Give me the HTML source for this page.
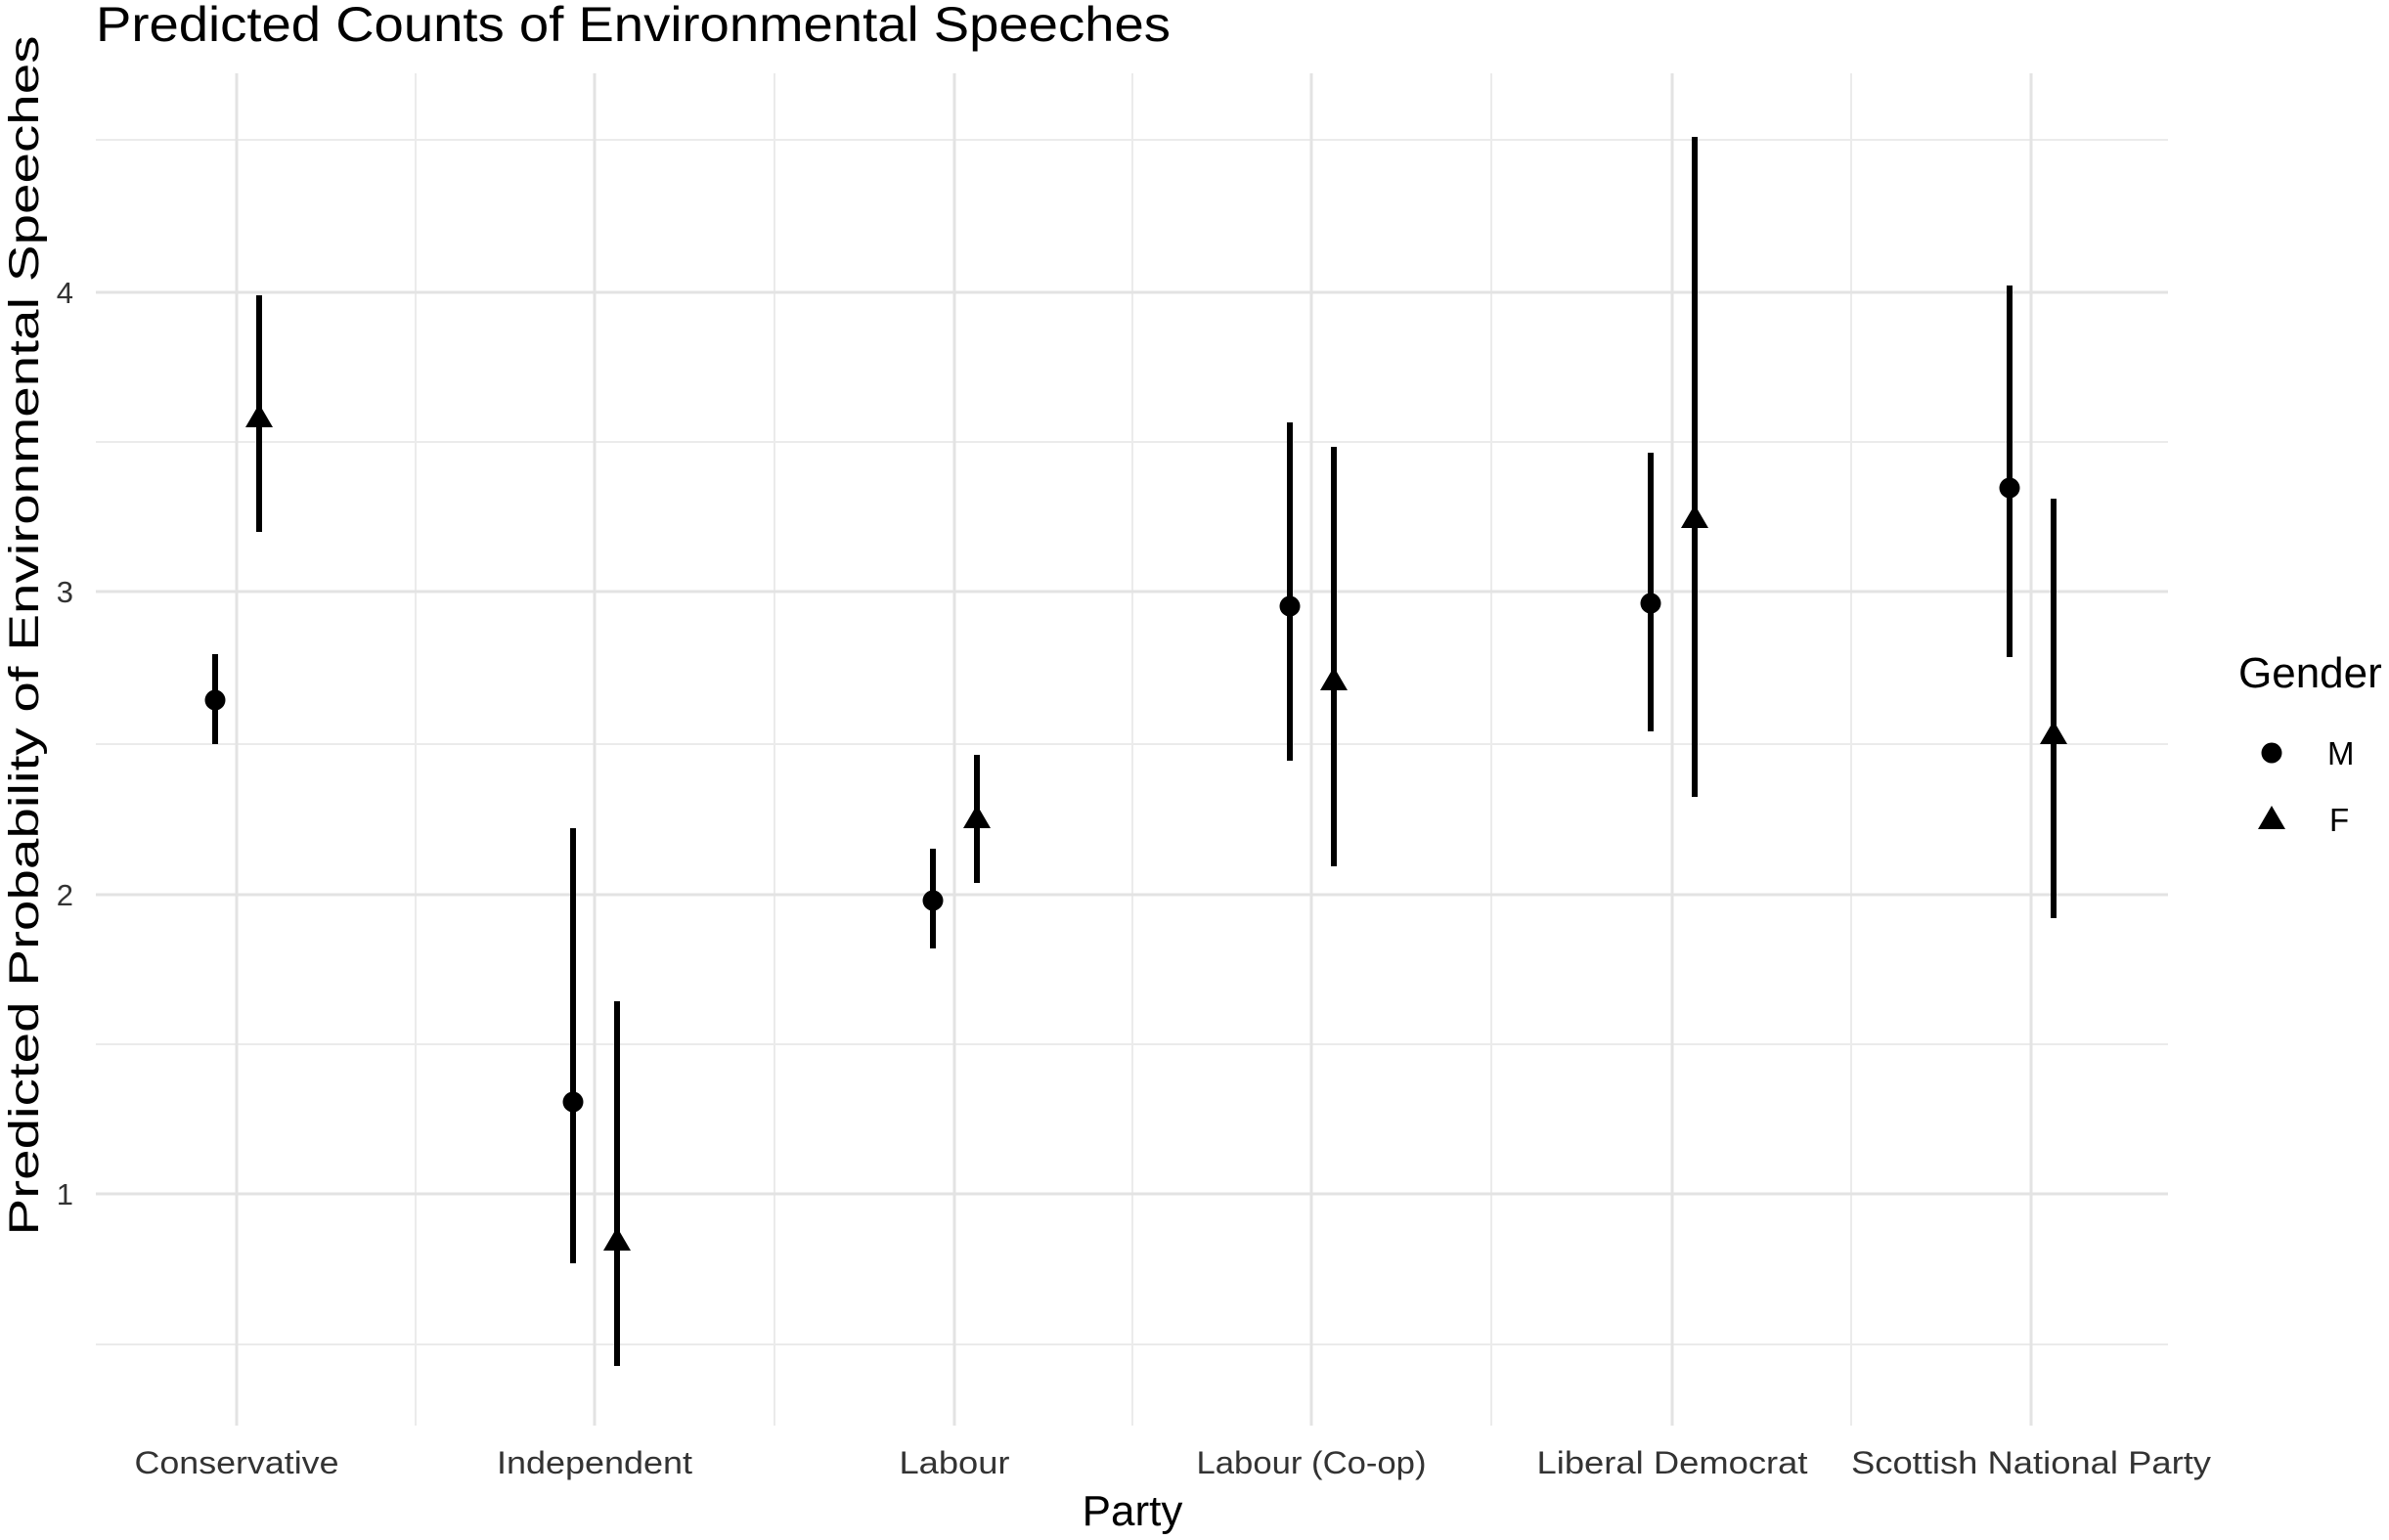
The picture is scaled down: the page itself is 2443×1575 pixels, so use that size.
<!DOCTYPE html>
<html><head><meta charset="utf-8"><style>html,body{margin:0;padding:0;background:#fff}svg{display:block}</style></head>
<body>
<svg width="2443" height="1575" viewBox="0 0 2443 1575" xmlns="http://www.w3.org/2000/svg" font-family="Liberation Sans, Arial, sans-serif">
<rect width="2443" height="1575" fill="#fff"/>
<g stroke="#ebebeb" stroke-width="2">
<line x1="98" x2="2217" y1="1375" y2="1375"/><line x1="98" x2="2217" y1="1068" y2="1068"/><line x1="98" x2="2217" y1="761" y2="761"/><line x1="98" x2="2217" y1="452" y2="452"/><line x1="98" x2="2217" y1="143" y2="143"/>
<line x1="425" x2="425" y1="75" y2="1458"/><line x1="792" x2="792" y1="75" y2="1458"/><line x1="1158" x2="1158" y1="75" y2="1458"/><line x1="1525" x2="1525" y1="75" y2="1458"/><line x1="1893" x2="1893" y1="75" y2="1458"/>
</g>
<g stroke="#e3e3e3" stroke-width="3">
<line x1="98" x2="2217" y1="1221" y2="1221"/><line x1="98" x2="2217" y1="915" y2="915"/><line x1="98" x2="2217" y1="605" y2="605"/><line x1="98" x2="2217" y1="299" y2="299"/>
<line x1="242" x2="242" y1="75" y2="1458"/><line x1="608" x2="608" y1="75" y2="1458"/><line x1="976" x2="976" y1="75" y2="1458"/><line x1="1341" x2="1341" y1="75" y2="1458"/><line x1="1710" x2="1710" y1="75" y2="1458"/><line x1="2077" x2="2077" y1="75" y2="1458"/>
</g>
<g stroke="#000" stroke-width="6">
<line x1="220" x2="220" y1="669" y2="761"/><line x1="265" x2="265" y1="302" y2="544"/>
<line x1="586" x2="586" y1="847" y2="1292"/><line x1="631" x2="631" y1="1024" y2="1397"/>
<line x1="954" x2="954" y1="868" y2="970"/><line x1="999" x2="999" y1="772" y2="903"/>
<line x1="1319" x2="1319" y1="432" y2="778"/><line x1="1364" x2="1364" y1="457" y2="886"/>
<line x1="1688" x2="1688" y1="463" y2="748"/><line x1="1733" x2="1733" y1="140" y2="815"/>
<line x1="2055" x2="2055" y1="292" y2="672"/><line x1="2100" x2="2100" y1="510" y2="939"/>
</g>
<g fill="#000">
<circle cx="220" cy="716" r="10.5"/><circle cx="586" cy="1127" r="10.5"/><circle cx="954" cy="921" r="10.5"/><circle cx="1319" cy="620" r="10.5"/><circle cx="1688" cy="617" r="10.5"/><circle cx="2055" cy="499" r="10.5"/>
<path d="M265 413 l-14 24 h28z"/><path d="M631 1255 l-14 24 h28z"/><path d="M999 823 l-14 24 h28z"/><path d="M1364 682 l-14 24 h28z"/><path d="M1733 516 l-14 24 h28z"/><path d="M2100 737 l-14 24 h28z"/>
<circle cx="2323" cy="770" r="10.5"/><path d="M2323 824 l-14 24 h28z"/>
</g>
<text x="98" y="42" font-size="50" fill="#000" textLength="1099" lengthAdjust="spacingAndGlyphs">Predicted Counts of Environmental Speeches</text>
<g font-size="31" fill="#333" text-anchor="end">
<text x="75" y="1232">1</text><text x="75" y="926">2</text><text x="75" y="616">3</text><text x="75" y="310">4</text>
</g>
<g font-size="32" fill="#333" text-anchor="middle">
<text x="242" y="1507" textLength="209" lengthAdjust="spacingAndGlyphs">Conservative</text>
<text x="608" y="1507" textLength="200" lengthAdjust="spacingAndGlyphs">Independent</text>
<text x="976" y="1507" textLength="113" lengthAdjust="spacingAndGlyphs">Labour</text>
<text x="1341" y="1507" textLength="235" lengthAdjust="spacingAndGlyphs">Labour (Co-op)</text>
<text x="1710" y="1507" textLength="277" lengthAdjust="spacingAndGlyphs">Liberal Democrat</text>
<text x="2077" y="1507" textLength="368" lengthAdjust="spacingAndGlyphs">Scottish National Party</text>
</g>
<text x="1158" y="1560" font-size="44" text-anchor="middle" fill="#000">Party</text>
<text transform="translate(39,650) rotate(-90)" font-size="43" text-anchor="middle" fill="#000" textLength="1227" lengthAdjust="spacingAndGlyphs">Predicted Probability of Environmental Speeches</text>
<text x="2289" y="703" font-size="44" fill="#000">Gender</text>
<text x="2380" y="782" font-size="33" fill="#000">M</text>
<text x="2382" y="850" font-size="33" fill="#000">F</text>
</svg>
</body></html>
